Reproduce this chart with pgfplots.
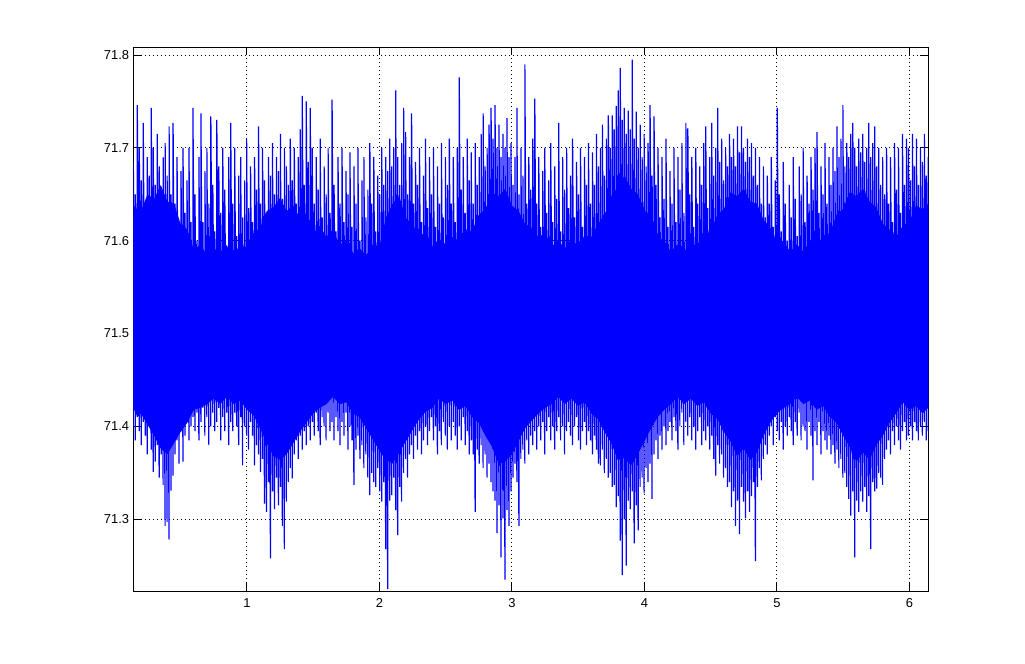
\documentclass[border=0pt]{standalone}
\usepackage{fontspec}
\setmainfont{Liberation Sans}
\usepackage{pgfplots}
\usepackage{pgfplotstable}
\pgfplotsset{compat=1.18}

% dense band of the signal: upper edge left to right, lower edge back
\pgfplotstableread{
x y
0.143 71.625
0.175 71.638
0.2 71.632
0.25 71.650
0.3 71.645
0.35 71.660
0.4 71.642
0.45 71.640
0.5 71.618
0.55 71.612
0.6 71.590
0.65 71.596
0.7 71.584
0.75 71.592
0.8 71.586
0.85 71.594
0.9 71.583
0.95 71.597
1.0 71.590
1.05 71.608
1.1 71.614
1.15 71.632
1.2 71.636
1.25 71.646
1.3 71.632
1.35 71.638
1.4 71.624
1.45 71.630
1.5 71.608
1.55 71.616
1.6 71.604
1.65 71.612
1.7 71.595
1.75 71.600
1.8 71.586
1.85 71.592
1.9 71.584
1.95 71.596
2.0 71.594
2.05 71.625
2.1 71.640
2.15 71.648
2.2 71.624
2.25 71.618
2.3 71.604
2.35 71.610
2.4 71.594
2.45 71.602
2.5 71.596
2.55 71.604
2.6 71.600
2.65 71.612
2.7 71.610
2.75 71.628
2.8 71.634
2.85 71.652
2.9 71.648
2.95 71.656
3.0 71.638
3.05 71.632
3.1 71.618
3.15 71.614
3.2 71.604
3.25 71.608
3.3 71.594
3.35 71.600
3.4 71.592
3.45 71.602
3.5 71.594
3.55 71.606
3.6 71.604
3.65 71.618
3.7 71.628
3.75 71.648
3.8 71.658
3.85 71.670
3.9 71.656
3.95 71.650
4.0 71.634
4.05 71.620
4.1 71.604
4.15 71.600
4.2 71.588
4.25 71.596
4.3 71.588
4.35 71.598
4.4 71.594
4.45 71.606
4.5 71.610
4.55 71.628
4.6 71.634
4.65 71.652
4.7 71.648
4.75 71.656
4.8 71.642
4.85 71.640
4.9 71.622
4.95 71.614
5.0 71.598
5.05 71.600
5.1 71.588
5.15 71.596
5.2 71.588
5.25 71.600
5.3 71.594
5.35 71.606
5.4 71.608
5.45 71.628
5.5 71.634
5.55 71.652
5.6 71.648
5.65 71.656
5.7 71.642
5.75 71.636
5.8 71.618
5.85 71.612
5.9 71.604
5.95 71.616
6.0 71.620
6.05 71.638
6.1 71.634
6.143 71.640
6.143 71.420
6.1 71.414
6.05 71.422
6.0 71.418
5.95 71.426
5.9 71.414
5.85 71.404
5.8 71.390
5.75 71.380
5.7 71.364
5.65 71.372
5.6 71.362
5.55 71.378
5.5 71.390
5.45 71.404
5.4 71.410
5.35 71.422
5.3 71.418
5.25 71.428
5.2 71.424
5.15 71.432
5.1 71.424
5.05 71.420
5.0 71.414
4.95 71.404
4.9 71.390
4.85 71.372
4.8 71.364
4.75 71.376
4.7 71.368
4.65 71.384
4.6 71.394
4.55 71.408
4.5 71.414
4.45 71.426
4.4 71.422
4.35 71.430
4.3 71.424
4.25 71.432
4.2 71.424
4.15 71.418
4.1 71.410
4.05 71.398
4.0 71.384
3.95 71.370
3.9 71.358
3.85 71.366
3.8 71.364
3.75 71.382
3.7 71.394
3.65 71.408
3.6 71.414
3.55 71.426
3.5 71.422
3.45 71.430
3.4 71.424
3.35 71.432
3.3 71.424
3.25 71.420
3.2 71.414
3.15 71.406
3.1 71.398
3.05 71.384
3.0 71.370
2.95 71.362
2.9 71.360
2.85 71.378
2.8 71.390
2.75 71.404
2.7 71.410
2.65 71.422
2.6 71.418
2.55 71.428
2.5 71.424
2.45 71.430
2.4 71.420
2.35 71.416
2.3 71.408
2.25 71.396
2.2 71.384
2.15 71.372
2.1 71.360
2.05 71.364
2.0 71.374
1.95 71.386
1.9 71.398
1.85 71.410
1.8 71.414
1.75 71.426
1.7 71.424
1.65 71.432
1.6 71.424
1.55 71.420
1.5 71.414
1.45 71.404
1.4 71.394
1.35 71.382
1.3 71.370
1.25 71.364
1.2 71.368
1.15 71.382
1.1 71.398
1.05 71.412
1.0 71.418
0.95 71.428
0.9 71.424
0.85 71.432
0.8 71.424
0.75 71.430
0.7 71.424
0.65 71.420
0.6 71.418
0.55 71.404
0.5 71.394
0.45 71.382
0.4 71.370
0.35 71.376
0.3 71.390
0.25 71.402
0.2 71.414
0.175 71.410
0.143 71.420
}\core

% the signal, low and high value of each column in turn
\pgfplotstableread{
x y
0.143 71.400
0.143 71.685
0.158 71.385
0.158 71.650
0.173 71.410
0.173 71.746
0.188 71.395
0.188 71.700
0.203 71.380
0.203 71.665
0.218 71.405
0.218 71.727
0.233 71.390
0.233 71.640
0.248 71.370
0.248 71.690
0.263 71.400
0.263 71.670
0.278 71.375
0.278 71.743
0.293 71.351
0.293 71.700
0.308 71.362
0.308 71.660
0.323 71.380
0.323 71.715
0.338 71.345
0.338 71.680
0.353 71.370
0.353 71.655
0.368 71.337
0.368 71.690
0.383 71.293
0.383 71.705
0.398 71.297
0.398 71.670
0.413 71.278
0.413 71.723
0.428 71.331
0.428 71.650
0.443 71.347
0.443 71.727
0.458 71.370
0.458 71.640
0.473 71.385
0.473 71.690
0.488 71.360
0.488 71.615
0.503 71.395
0.503 71.675
0.518 71.362
0.518 71.700
0.533 71.390
0.533 71.630
0.548 71.405
0.548 71.665
0.563 71.385
0.563 71.700
0.578 71.400
0.578 71.620
0.593 71.410
0.593 71.743
0.608 71.395
0.608 71.650
0.623 71.415
0.623 71.600
0.638 71.385
0.638 71.690
0.653 71.405
0.653 71.737
0.668 71.420
0.668 71.620
0.683 71.390
0.683 71.675
0.698 71.410
0.698 71.700
0.713 71.380
0.713 71.640
0.728 71.400
0.728 71.734
0.743 71.415
0.743 71.660
0.758 71.395
0.758 71.610
0.773 71.405
0.773 71.730
0.788 71.420
0.788 71.680
0.803 71.385
0.803 71.630
0.818 71.410
0.818 71.700
0.833 71.395
0.833 71.655
0.848 71.415
0.848 71.595
0.863 71.380
0.863 71.690
0.878 71.405
0.878 71.727
0.893 71.395
0.893 71.640
0.908 71.415
0.908 71.700
0.923 71.400
0.923 71.605
0.938 71.380
0.938 71.670
0.953 71.410
0.953 71.690
0.968 71.358
0.968 71.625
0.983 71.400
0.983 71.665
0.998 71.390
0.998 71.710
1.013 71.375
1.013 71.635
1.028 71.405
1.028 71.680
1.043 71.390
1.043 71.620
1.058 71.358
1.058 71.690
1.073 71.380
1.073 71.655
1.088 71.370
1.088 71.723
1.103 71.351
1.103 71.640
1.118 71.365
1.118 71.700
1.133 71.317
1.133 71.665
1.148 71.308
1.148 71.630
1.163 71.340
1.163 71.690
1.178 71.258
1.178 71.670
1.193 71.330
1.193 71.705
1.208 71.311
1.208 71.650
1.223 71.345
1.223 71.690
1.238 71.315
1.238 71.675
1.253 71.335
1.253 71.715
1.268 71.293
1.268 71.645
1.283 71.268
1.283 71.700
1.298 71.319
1.298 71.680
1.313 71.340
1.313 71.660
1.328 71.355
1.328 71.710
1.343 71.344
1.343 71.665
1.358 71.370
1.358 71.700
1.373 71.385
1.373 71.640
1.388 71.365
1.388 71.690
1.403 71.390
1.403 71.720
1.418 71.375
1.418 71.756
1.433 71.395
1.433 71.660
1.448 71.380
1.448 71.750
1.463 71.400
1.463 71.685
1.478 71.385
1.478 71.743
1.493 71.405
1.493 71.700
1.508 71.390
1.508 71.640
1.523 71.415
1.523 71.690
1.538 71.395
1.538 71.655
1.553 71.380
1.553 71.710
1.568 71.410
1.568 71.625
1.583 71.400
1.583 71.680
1.598 71.385
1.598 71.650
1.613 71.415
1.613 71.700
1.628 71.395
1.628 71.630
1.643 71.405
1.643 71.752
1.658 71.385
1.658 71.660
1.673 71.410
1.673 71.610
1.688 71.395
1.688 71.690
1.703 71.380
1.703 71.640
1.718 71.405
1.718 71.700
1.733 71.390
1.733 71.620
1.748 71.415
1.748 71.675
1.763 71.375
1.763 71.650
1.778 71.400
1.778 71.695
1.793 71.385
1.793 71.615
1.808 71.337
1.808 71.680
1.823 71.375
1.823 71.640
1.838 71.390
1.838 71.700
1.853 71.365
1.853 71.600
1.868 71.380
1.868 71.665
1.883 71.355
1.883 71.690
1.898 71.370
1.898 71.625
1.913 71.345
1.913 71.655
1.928 71.326
1.928 71.705
1.943 71.350
1.943 71.640
1.958 71.340
1.958 71.690
1.973 71.335
1.973 71.610
1.988 71.355
1.988 71.670
2.003 71.330
2.003 71.650
2.018 71.319
2.018 71.700
2.033 71.340
2.033 71.660
2.048 71.268
2.048 71.690
2.063 71.225
2.063 71.675
2.078 71.320
2.078 71.710
2.093 71.326
2.093 71.680
2.108 71.345
2.108 71.700
2.123 71.310
2.123 71.762
2.138 71.283
2.138 71.690
2.153 71.335
2.153 71.660
2.168 71.319
2.168 71.705
2.183 71.350
2.183 71.743
2.198 71.365
2.198 71.717
2.213 71.345
2.213 71.650
2.228 71.370
2.228 71.690
2.243 71.380
2.243 71.737
2.258 71.365
2.258 71.640
2.273 71.390
2.273 71.685
2.288 71.375
2.288 71.660
2.303 71.395
2.303 71.700
2.318 71.370
2.318 71.620
2.333 71.385
2.333 71.670
2.348 71.400
2.348 71.710
2.363 71.380
2.363 71.635
2.378 71.395
2.378 71.690
2.393 71.410
2.393 71.650
2.408 71.385
2.408 71.700
2.423 71.400
2.423 71.615
2.438 71.370
2.438 71.680
2.453 71.395
2.453 71.640
2.468 71.380
2.468 71.705
2.483 71.405
2.483 71.625
2.498 71.390
2.498 71.690
2.513 71.375
2.513 71.660
2.528 71.400
2.528 71.710
2.543 71.385
2.543 71.640
2.558 71.405
2.558 71.690
2.573 71.390
2.573 71.620
2.588 71.375
2.588 71.700
2.603 71.400
2.603 71.776
2.618 71.385
2.618 71.655
2.633 71.410
2.633 71.690
2.648 71.380
2.648 71.630
2.663 71.395
2.663 71.710
2.678 71.370
2.678 71.665
2.693 71.385
2.693 71.695
2.708 71.370
2.708 71.640
2.723 71.308
2.723 71.705
2.738 71.375
2.738 71.660
2.753 71.360
2.753 71.690
2.768 71.380
2.768 71.715
2.783 71.355
2.783 71.737
2.798 71.370
2.798 71.680
2.813 71.345
2.813 71.700
2.828 71.360
2.828 71.725
2.843 71.340
2.843 71.743
2.858 71.330
2.858 71.710
2.873 71.320
2.873 71.746
2.888 71.285
2.888 71.700
2.903 71.315
2.903 71.725
2.918 71.259
2.918 71.690
2.933 71.301
2.933 71.715
2.948 71.235
2.948 71.700
2.963 71.310
2.963 71.732
2.978 71.293
2.978 71.690
2.993 71.330
2.993 71.705
3.008 71.345
3.008 71.660
3.023 71.360
3.023 71.690
3.038 71.340
3.038 71.743
3.053 71.293
3.053 71.650
3.068 71.365
3.068 71.700
3.083 71.375
3.083 71.670
3.098 71.360
3.098 71.790
3.113 71.385
3.113 71.640
3.128 71.370
3.128 71.690
3.143 71.390
3.143 71.655
3.158 71.380
3.158 71.710
3.173 71.395
3.173 71.753
3.188 71.375
3.188 71.640
3.203 71.400
3.203 71.690
3.218 71.385
3.218 71.615
3.233 71.405
3.233 71.675
3.248 71.370
3.248 71.700
3.263 71.395
3.263 71.630
3.278 71.410
3.278 71.665
3.293 71.385
3.293 71.705
3.308 71.400
3.308 71.620
3.323 71.375
3.323 71.680
3.338 71.395
3.338 71.645
3.353 71.410
3.353 71.727
3.368 71.385
3.368 71.610
3.383 71.400
3.383 71.690
3.398 71.370
3.398 71.655
3.413 71.395
3.413 71.700
3.428 71.405
3.428 71.635
3.443 71.390
3.443 71.670
3.458 71.380
3.458 71.710
3.473 71.400
3.473 71.625
3.488 71.410
3.488 71.685
3.503 71.385
3.503 71.650
3.518 71.375
3.518 71.700
3.533 71.395
3.533 71.615
3.548 71.405
3.548 71.690
3.563 71.380
3.563 71.660
3.578 71.395
3.578 71.705
3.593 71.385
3.593 71.640
3.608 71.370
3.608 71.695
3.623 71.390
3.623 71.660
3.638 71.375
3.638 71.715
3.653 71.360
3.653 71.680
3.668 71.358
3.668 71.700
3.683 71.375
3.683 71.725
3.698 71.350
3.698 71.670
3.713 71.365
3.713 71.710
3.728 71.345
3.728 71.735
3.743 71.350
3.743 71.700
3.758 71.335
3.758 71.735
3.773 71.337
3.773 71.720
3.788 71.313
3.788 71.745
3.803 71.325
3.803 71.762
3.818 71.277
3.818 71.786
3.833 71.240
3.833 71.730
3.848 71.300
3.848 71.743
3.863 71.250
3.863 71.715
3.878 71.320
3.878 71.740
3.893 71.311
3.893 71.720
3.908 71.330
3.908 71.795
3.923 71.274
3.923 71.710
3.938 71.315
3.938 71.739
3.953 71.288
3.953 71.700
3.968 71.335
3.968 71.725
3.983 71.345
3.983 71.690
3.998 71.328
3.998 71.715
4.013 71.355
4.013 71.680
4.028 71.340
4.028 71.705
4.043 71.360
4.043 71.746
4.058 71.322
4.058 71.670
4.073 71.370
4.073 71.734
4.088 71.385
4.088 71.660
4.103 71.365
4.103 71.700
4.118 71.390
4.118 71.625
4.133 71.375
4.133 71.690
4.148 71.400
4.148 71.645
4.163 71.380
4.163 71.710
4.178 71.395
4.178 71.615
4.193 71.405
4.193 71.675
4.208 71.385
4.208 71.640
4.223 71.410
4.223 71.700
4.238 71.395
4.238 71.620
4.253 71.375
4.253 71.690
4.268 71.400
4.268 71.655
4.283 71.415
4.283 71.705
4.298 71.380
4.298 71.630
4.313 71.405
4.313 71.727
4.328 71.390
4.328 71.721
4.343 71.410
4.343 71.650
4.358 71.385
4.358 71.690
4.373 71.400
4.373 71.615
4.388 71.375
4.388 71.700
4.403 71.395
4.403 71.640
4.418 71.410
4.418 71.680
4.433 71.380
4.433 71.660
4.448 71.395
4.448 71.705
4.463 71.385
4.463 71.723
4.478 71.400
4.478 71.635
4.493 71.375
4.493 71.690
4.508 71.390
4.508 71.727
4.523 71.365
4.523 71.670
4.538 71.347
4.538 71.700
4.553 71.380
4.553 71.743
4.568 71.360
4.568 71.685
4.583 71.370
4.583 71.710
4.598 71.345
4.598 71.665
4.613 71.355
4.613 71.700
4.628 71.335
4.628 71.680
4.643 71.340
4.643 71.715
4.658 71.313
4.658 71.690
4.673 71.330
4.673 71.710
4.688 71.293
4.688 71.680
4.703 71.320
4.703 71.723
4.718 71.284
4.718 71.695
4.733 71.335
4.733 71.723
4.748 71.319
4.748 71.700
4.763 71.301
4.763 71.685
4.778 71.330
4.778 71.710
4.793 71.308
4.793 71.690
4.808 71.325
4.808 71.705
4.823 71.340
4.823 71.670
4.838 71.255
4.838 71.700
4.853 71.335
4.853 71.660
4.868 71.355
4.868 71.690
4.883 71.342
4.883 71.640
4.898 71.365
4.898 71.680
4.913 71.380
4.913 71.625
4.928 71.370
4.928 71.670
4.943 71.390
4.943 71.640
4.958 71.400
4.958 71.690
4.973 71.380
4.973 71.615
4.988 71.410
4.988 71.665
5.003 71.395
5.003 71.743
5.018 71.385
5.018 71.650
5.033 71.405
5.033 71.610
5.048 71.375
5.048 71.685
5.063 71.400
5.063 71.640
5.078 71.390
5.078 71.600
5.093 71.410
5.093 71.660
5.108 71.395
5.108 71.625
5.123 71.380
5.123 71.690
5.138 71.405
5.138 71.645
5.153 71.390
5.153 71.605
5.168 71.415
5.168 71.680
5.183 71.385
5.183 71.650
5.198 71.400
5.198 71.700
5.213 71.395
5.213 71.620
5.228 71.375
5.228 71.670
5.243 71.405
5.243 71.640
5.258 71.390
5.258 71.690
5.273 71.342
5.273 71.655
5.288 71.395
5.288 71.700
5.303 71.380
5.303 71.717
5.318 71.405
5.318 71.630
5.333 71.370
5.333 71.680
5.348 71.395
5.348 71.650
5.363 71.385
5.363 71.705
5.378 71.375
5.378 71.640
5.393 71.390
5.393 71.690
5.408 71.370
5.408 71.660
5.423 71.380
5.423 71.700
5.438 71.360
5.438 71.675
5.453 71.375
5.453 71.723
5.468 71.355
5.468 71.690
5.483 71.365
5.483 71.710
5.498 71.345
5.498 71.746
5.513 71.350
5.513 71.680
5.528 71.335
5.528 71.705
5.543 71.322
5.543 71.690
5.558 71.304
5.558 71.715
5.573 71.330
5.573 71.727
5.588 71.259
5.588 71.700
5.603 71.320
5.603 71.680
5.618 71.308
5.618 71.710
5.633 71.330
5.633 71.695
5.648 71.319
5.648 71.715
5.663 71.335
5.663 71.685
5.678 71.308
5.678 71.700
5.693 71.325
5.693 71.727
5.708 71.268
5.708 71.690
5.723 71.340
5.723 71.705
5.738 71.330
5.738 71.723
5.753 71.333
5.753 71.680
5.768 71.350
5.768 71.700
5.783 71.345
5.783 71.660
5.798 71.337
5.798 71.690
5.813 71.365
5.813 71.650
5.828 71.375
5.828 71.700
5.843 71.385
5.843 71.640
5.858 71.370
5.858 71.690
5.873 71.395
5.873 71.620
5.888 71.380
5.888 71.705
5.903 71.400
5.903 71.655
5.918 71.385
5.918 71.700
5.933 71.375
5.933 71.630
5.948 71.395
5.948 71.715
5.963 71.405
5.963 71.660
5.978 71.385
5.978 71.710
5.993 71.390
5.993 71.700
6.008 71.400
6.008 71.665
6.023 71.385
6.023 71.715
6.038 71.405
6.038 71.680
6.053 71.395
6.053 71.710
6.068 71.385
6.068 71.660
6.083 71.400
6.083 71.700
6.098 71.390
6.098 71.685
6.113 71.405
6.113 71.715
6.128 71.385
6.128 71.670
6.143 71.395
6.143 71.690
}\signal

\begin{document}
\begin{tikzpicture}
\path[use as bounding box, fill=white] (-100pt,-54.75pt) rectangle (668.75pt,443.25pt);
\begin{axis}[
  at={(0pt,0pt)}, anchor=south west,
  scale only axis, width=596.25pt, height=408pt,
  xmin=0.143, xmax=6.143, ymin=71.2228, ymax=71.8086,
  xtick={1,2,3,4,5,6},
  ytick={71.3,71.4,71.5,71.6,71.7,71.8},
  /pgf/number format/assume math mode=true,
  tick label style={font=\fontsize{9.7}{11}\selectfont, inner sep=0pt},
  xticklabel style={yshift=-5.25pt},
  yticklabel style={xshift=-3pt, /pgf/number format/fixed,
    /pgf/number format/fixed zerofill, /pgf/number format/precision=1},
  tick align=inside, xtick pos=both, ytick pos=both,
  xticklabel pos=lower, yticklabel pos=left,
  major tick length=6pt,
  every tick/.style={black, line width=0.6pt},
  axis line style={black, line width=0.6pt},
  grid=major,
  major grid style={black, line width=0.6pt, dash pattern=on 0.6pt off 2.4pt},
]
\addplot[fill=blue, draw=none] table {\core};
\addplot[blue, mark=none, line width=0.9pt, line join=bevel] table {\signal};
\end{axis}
\end{tikzpicture}
\end{document}
